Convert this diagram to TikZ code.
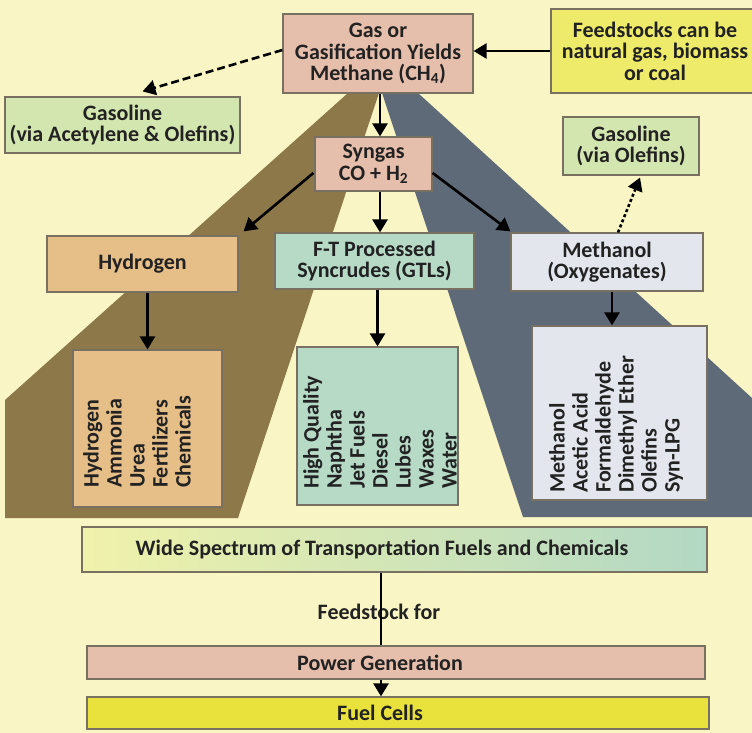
\documentclass[tikz,border=0pt]{standalone}
\usepackage{fontspec}
\setmainfont{Carlito}
\usetikzlibrary{arrows.meta}
\definecolor{bgc}{RGB}{249,245,196}
\definecolor{olivec}{RGB}{140,120,72}
\definecolor{slatec}{RGB}{95,106,120}
\definecolor{pinkc}{RGB}{230,190,172}
\definecolor{feedc}{RGB}{238,234,106}
\definecolor{fuelc}{RGB}{233,226,60}
\definecolor{greenc}{RGB}{212,230,176}
\definecolor{tanc}{RGB}{230,190,136}
\definecolor{tealc}{RGB}{182,218,198}
\definecolor{lavc}{RGB}{228,230,238}
\definecolor{edgec}{RGB}{120,112,96}
\definecolor{txtc}{RGB}{34,34,34}
\newcommand\labfont{\fontsize{22}{21.5}\selectfont\bfseries}
\newcommand\listfont{\fontsize{22}{23}\selectfont\bfseries}
\begin{document}
\begin{tikzpicture}[x=1pt,y=-1pt,
  box/.style={draw=edgec, line width=1.2pt, text=txtc, font=\labfont,
    align=center, inner sep=0pt},
  lab/.style={text=txtc, font=\labfont, align=center, inner sep=0pt},
  listtxt/.style={text=txtc, font=\listfont, align=left, inner sep=0pt,
    anchor=north west, rotate=90},
  arr/.style={draw=black, line width=2.6pt, -{Triangle[length=13pt,width=15pt]}},
  dasharr/.style={arr, dash pattern=on 8pt off 4pt},
  dotarr/.style={arr, dash pattern=on 3pt off 2.5pt}]
\clip (0,0) rectangle (752,733);
\fill[bgc] (0,0) rectangle (752,733);
% the two fans spreading below the methane box
\fill[olivec] (348,93) -- (379,93) -- (238,518) -- (5,518) -- (5,400) -- cycle;
\fill[slatec] (382,93) -- (418,93) -- (752,398) -- (752,517) -- (523,517) -- cycle;

% top row
\node[box, fill=pinkc, minimum width=190pt, minimum height=79pt] (gas) at (378,53.5)
  {Gas or\\Gasification Yields\\Methane (CH\textsubscript{4})};
\node[box, fill=feedc, minimum width=222pt, minimum height=84pt] (feed) at (662,51) {};
\node[lab] (feedl) at (655,51) {Feedstocks can be\\natural gas, biomass\\or coal};
\node[box, fill=greenc, minimum width=235pt, minimum height=56pt] (gasa) at (122.5,125)
  {Gasoline\\(via Acetylene \& Olefins)};
\node[box, fill=greenc, minimum width=136pt, minimum height=58pt] (gaso) at (631,146)
  {Gasoline\\(via Olefins)};
\node[box, fill=pinkc, minimum width=117pt, minimum height=54pt] (syn) at (373.5,164)
  {Syngas\\CO + H\textsubscript{2}};

% second row
\node[box, fill=tanc, minimum width=191pt, minimum height=56pt] (hyd) at (142.5,264) {Hydrogen};
\node[box, fill=tealc, minimum width=199pt, minimum height=56pt] (ft) at (374.5,261)
  {F-T Processed\\Syncrudes (GTLs)};
\node[box, fill=lavc, minimum width=192pt, minimum height=58pt] (meth) at (607,262)
  {Methanol\\(Oxygenates)};

% product boxes
\node[box, fill=tanc, minimum width=149pt, minimum height=157pt] (hydp) at (147.5,428.5) {};
\node[box, fill=tealc, minimum width=161pt, minimum height=158pt] (ftp) at (377.5,426) {};
\node[box, fill=lavc, minimum width=175pt, minimum height=174pt] (methp) at (619.5,413) {};
\node[listtxt] (hlist) at (83,488) {Hydrogen\\Ammonia\\Urea\\Fertilizers\\Chemicals};
\node[listtxt] (flist) at (303,489) {High Quality\\Naphtha\\Jet Fuels\\Diesel\\Lubes\\Waxes\\Water};
\node[listtxt] (mlist) at (549,493) {Methanol\\Acetic Acid\\Formaldehyde\\Dimethyl Ether\\Olefins\\Syn-LPG};

% bottom band: boxes, with their labels centred on the vertical connector
\node[box, shade, left color={rgb,255:red,240;green,242;blue,170},
  middle color={rgb,255:red,226;green,238;blue,178},
  right color={rgb,255:red,178;green,216;blue,196},
  minimum width=625pt, minimum height=45pt] (wide) at (394.5,549.5) {};
\node[lab] (widel) at (382,549.5) {Wide Spectrum of Transportation Fuels and Chemicals};
\node[box, fill=fuelc, minimum width=622pt, minimum height=32pt] (fuel) at (398,713) {};
\node[lab] (fuell) at (380,713) {Fuel Cells};
\node[lab] (fsl) at (379,612) {Feedstock for};
\draw[arr] ([xshift=-13.5pt]wide.south) -- ([xshift=-13.5pt]wide.south |- fuel.north);
\node[box, fill=pinkc, minimum width=618pt, minimum height=33pt] (power) at (396,662.5) {};
\node[lab] (powerl) at (380,662.5) {Power Generation};

% connectors
\draw[arr] (feed.west) -- (feed.west -| gas.east);
\draw[dasharr] ([yshift=3.5pt]gas.west) -- ([xshift=20pt,yshift=5pt]gasa.north);
\draw[arr] ([xshift=2pt]gas.south) -- ([xshift=2pt]gas.south |- syn.north);
\draw[arr] ([xshift=6.5pt]syn.south) -- ([xshift=6.5pt]syn.south |- ft.north);
\draw[arr] ([xshift=-1pt,yshift=-9pt]syn.west) -- ([xshift=5pt,yshift=4pt]hyd.north east);
\draw[arr] ([yshift=-9pt]syn.east) -- ([yshift=1pt]meth.north west);
\draw[arr] (hyd.south -| hydp.north) -- (hydp.north);
\draw[arr] (ft.south -| ftp.north) -- (ftp.north);
\draw[arr] ([xshift=5pt]meth.south) -- ([xshift=5pt]meth.south |- methp.north);
\draw[dotarr] ([xshift=11pt]meth.north) -- ([xshift=9pt,yshift=-2pt]gaso.south);
\end{tikzpicture}
\end{document}
